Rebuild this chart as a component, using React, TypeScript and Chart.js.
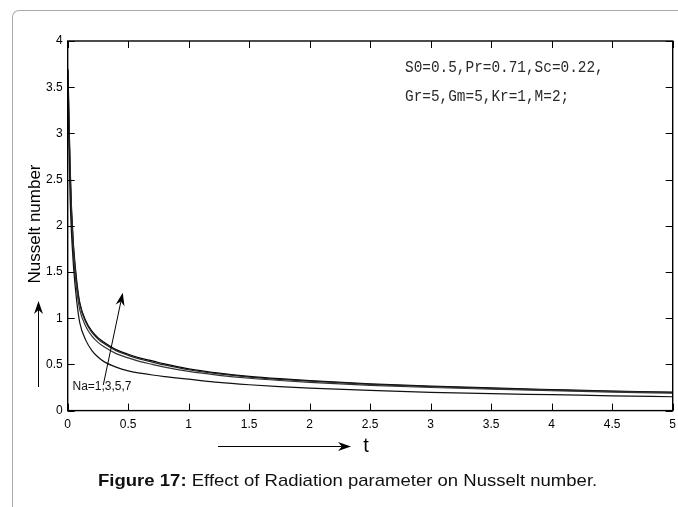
import React, { useEffect, useRef } from "react";
import { Chart, registerables } from "chart.js";

Chart.register(...registerables);

// ---- data ----
const tValues = [0.002, 0.005, 0.01, 0.02, 0.03, 0.04, 0.05, 0.075, 0.1, 0.15, 0.2, 0.25, 0.3, 0.4, 0.5, 0.6, 0.7, 0.8, 1.0, 1.25, 1.5, 1.75, 2, 2.5, 3, 3.5, 4, 4.5, 5];
const nuNa7 = [3.7, 3.55, 3.2, 2.65, 2.25, 1.98, 1.75, 1.4, 1.17, 0.97, 0.86, 0.79, 0.74, 0.66, 0.61, 0.568, 0.538, 0.505, 0.452, 0.405, 0.37, 0.345, 0.325, 0.29, 0.265, 0.245, 0.228, 0.212, 0.2];
const nuNa5 = [3.68, 3.5, 3.15, 2.6, 2.2, 1.94, 1.72, 1.37, 1.15, 0.955, 0.845, 0.775, 0.725, 0.648, 0.598, 0.556, 0.525, 0.494, 0.442, 0.397, 0.363, 0.338, 0.318, 0.284, 0.26, 0.24, 0.222, 0.207, 0.195];
const nuNa3 = [3.65, 3.45, 3.1, 2.52, 2.12, 1.86, 1.65, 1.3, 1.09, 0.91, 0.805, 0.738, 0.69, 0.617, 0.57, 0.53, 0.5, 0.47, 0.424, 0.382, 0.35, 0.326, 0.306, 0.274, 0.25, 0.232, 0.215, 0.2, 0.188];
const nuNa1 = [3.6, 3.35, 2.9, 2.3, 1.95, 1.72, 1.52, 1.18, 0.95, 0.76, 0.65, 0.58, 0.53, 0.47, 0.43, 0.405, 0.385, 0.368, 0.34, 0.305, 0.28, 0.26, 0.243, 0.218, 0.198, 0.183, 0.172, 0.16, 0.15];
const seriesList = [
  { label: "Na=1", values: nuNa1, color: "#111111" },
  { label: "Na=3", values: nuNa3, color: "#333333" },
  { label: "Na=5", values: nuNa5, color: "#222222" },
  { label: "Na=7", values: nuNa7, color: "#000000" },
];
const xTickValues = [0, 0.5, 1, 1.5, 2, 2.5, 3, 3.5, 4, 4.5, 5];
const xTickLabels = ["0", "0.5", "1", "1.5", "2", "2.5", "3", "3.5", "4", "4.5", "5"];
const yTickValues = [0, 0.5, 1, 1.5, 2, 2.5, 3, 3.5, 4];
const yTickLabels = ["0", "0.5", "1", "1.5", "2", "2.5", "3", "3.5", "4"];
const paramLines = ["S0=0.5,Pr=0.71,Sc=0.22,", "Gr=5,Gm=5,Kr=1,M=2;"];
const curveLabel = "Na=1,3,5,7";
const arrowTail = { x: 0.294, y: 0.277 };
const arrowHead = { x: 0.455, y: 1.276 };
const yTitle = "Nusselt number";
const xTitle = "t";

const SANS = '"Liberation Sans", Arial, sans-serif';

function drawArrow(ctx: CanvasRenderingContext2D, x1: number, y1: number, x2: number, y2: number, len = 12, half = 4.5) {
  const ang = Math.atan2(y2 - y1, x2 - x1);
  const ux = Math.cos(ang), uy = Math.sin(ang);
  const px = -uy, py = ux;
  const bx = x2 - ux * len, by = y2 - uy * len;
  const nx = x2 - ux * len * 0.7, ny = y2 - uy * len * 0.7;
  ctx.beginPath();
  ctx.moveTo(x1, y1);
  ctx.lineTo(nx, ny);
  ctx.stroke();
  ctx.beginPath();
  ctx.moveTo(x2, y2);
  ctx.lineTo(bx + px * half, by + py * half);
  ctx.lineTo(nx, ny);
  ctx.lineTo(bx - px * half, by - py * half);
  ctx.closePath();
  ctx.fill();
}

const decorPlugin = {
  id: "decor",
  afterDraw(chart: any) {
    const { ctx, chartArea: a, scales } = chart;
    const xs = scales.x, ys = scales.y;
    ctx.save();
    // frame
    ctx.strokeStyle = "#000";
    ctx.lineWidth = 1.4;
    ctx.strokeRect(a.left, a.top, a.right - a.left, a.bottom - a.top);
    // inward ticks
    ctx.lineWidth = 1;
    const tl = 7;
    ctx.beginPath();
    xTickValues.forEach((v) => {
      const p = Math.round(xs.getPixelForValue(v)) + 0.5;
      ctx.moveTo(p, a.bottom); ctx.lineTo(p, a.bottom - tl);
      ctx.moveTo(p, a.top); ctx.lineTo(p, a.top + tl);
    });
    yTickValues.forEach((v) => {
      const p = Math.round(ys.getPixelForValue(v)) + 0.5;
      ctx.moveTo(a.left, p); ctx.lineTo(a.left + tl, p);
      ctx.moveTo(a.right, p); ctx.lineTo(a.right - tl, p);
    });
    ctx.stroke();

    // parameter text (slightly condensed monospace)
    ctx.fillStyle = "#2a2a2a";
    ctx.font = '16px "Liberation Mono", "Courier New", monospace';
    ctx.textBaseline = "middle";
    ctx.textAlign = "left";
    ctx.save();
    ctx.translate(405, 0);
    ctx.scale(0.9, 1);
    ctx.fillText(paramLines[0], 0, 68);
    ctx.fillText(paramLines[1], 0, 97);
    ctx.restore();

    // curve label
    ctx.fillStyle = "#111";
    ctx.font = `12px ${SANS}`;
    ctx.fillText(curveLabel, 72.5, 387);

    // diagonal arrow in data coordinates
    ctx.strokeStyle = "#000";
    ctx.fillStyle = "#000";
    ctx.lineWidth = 1;
    drawArrow(
      ctx,
      xs.getPixelForValue(arrowTail.x), ys.getPixelForValue(arrowTail.y),
      xs.getPixelForValue(arrowHead.x), ys.getPixelForValue(arrowHead.y),
      13, 4.5
    );

    // y title + arrow
    ctx.save();
    ctx.translate(35, 224);
    ctx.rotate(-Math.PI / 2);
    ctx.textAlign = "center";
    ctx.textBaseline = "middle";
    ctx.font = `17px ${SANS}`;
    ctx.fillStyle = "#000";
    ctx.fillText(yTitle, 0, 0);
    ctx.restore();
    drawArrow(ctx, 38.5, 387, 38.5, 301, 13, 4.5);

    // x title + arrow
    drawArrow(ctx, 218, 446.5, 351, 446.5, 13, 4.5);
    ctx.font = `20px ${SANS}`;
    ctx.textAlign = "center";
    ctx.textBaseline = "middle";
    ctx.fillText(xTitle, 366, 446);
    ctx.restore();
  },
};

export default function App() {
  const ref = useRef<HTMLCanvasElement | null>(null);
  useEffect(() => {
    if (!ref.current) return;
    const chart = new Chart(ref.current, {
      type: "line",
      data: {
        datasets: seriesList.map((s) => ({
          label: s.label,
          data: tValues.map((t, i) => ({ x: t, y: s.values[i] })),
          borderColor: s.color,
          borderWidth: 1.2,
          pointRadius: 0,
          fill: false,
          cubicInterpolationMode: "monotone" as const,
        })),
      },
      options: {
        animation: false,
        responsive: false,
        events: [],
        layout: { padding: { left: 0, top: 41, right: 5.3, bottom: 0 } },
        plugins: { legend: { display: false }, tooltip: { enabled: false }, title: { display: false } },
        scales: {
          x: {
            type: "linear",
            min: 0,
            max: 5,
            grid: { display: false, drawTicks: false },
            border: { display: false },
            afterBuildTicks: (sc: any) => { sc.ticks = xTickValues.map((v) => ({ value: v })); },
            afterFit: (sc: any) => {
              sc.height = 507 - 410.6;
              sc.paddingLeft = 0;
              sc.paddingRight = 0;
            },
            ticks: {
              padding: 7,
              maxRotation: 0,
              autoSkip: false,
              color: "#000",
              font: { family: SANS, size: 12 },
              callback: (v: any) => xTickLabels[xTickValues.indexOf(Number(v))] ?? "",
            },
          },
          y: {
            type: "linear",
            min: 0,
            max: 4,
            grid: { display: false, drawTicks: false },
            border: { display: false },
            afterBuildTicks: (sc: any) => { sc.ticks = yTickValues.map((v) => ({ value: v })); },
            afterFit: (sc: any) => {
              sc.width = 67.7;
              sc.paddingTop = 0;
              sc.paddingBottom = 0;
            },
            ticks: {
              padding: 5,
              autoSkip: false,
              color: "#000",
              font: { family: SANS, size: 12 },
              callback: (v: any) => yTickLabels[yTickValues.indexOf(Number(v))] ?? "",
            },
          },
        },
      },
      plugins: [decorPlugin],
    });
    return () => chart.destroy();
  }, []);

  return (
    <div style={{ position: "absolute", left: 0, top: 0, width: 678, height: 507, overflow: "hidden", background: "#fff" }}>
      <div
        style={{
          position: "absolute",
          left: 12,
          top: 10,
          width: 720,
          height: 540,
          borderTop: "1px solid #aaa",
          borderLeft: "1px solid #aaa",
          borderTopLeftRadius: 7,
          boxSizing: "border-box",
        }}
      />
      <canvas ref={ref} width={678} height={507} style={{ position: "absolute", left: 0, top: 0 }} />
      <div
        style={{
          position: "absolute",
          left: 98,
          top: 470,
          fontFamily: SANS,
          fontSize: 17,
          lineHeight: "22px",
          color: "#111",
          whiteSpace: "nowrap",
          transform: "scaleX(1.09)",
          transformOrigin: "0 0",
        }}
      >
        <b>Figure 17:</b> Effect of Radiation parameter on Nusselt number.
      </div>
    </div>
  );
}
